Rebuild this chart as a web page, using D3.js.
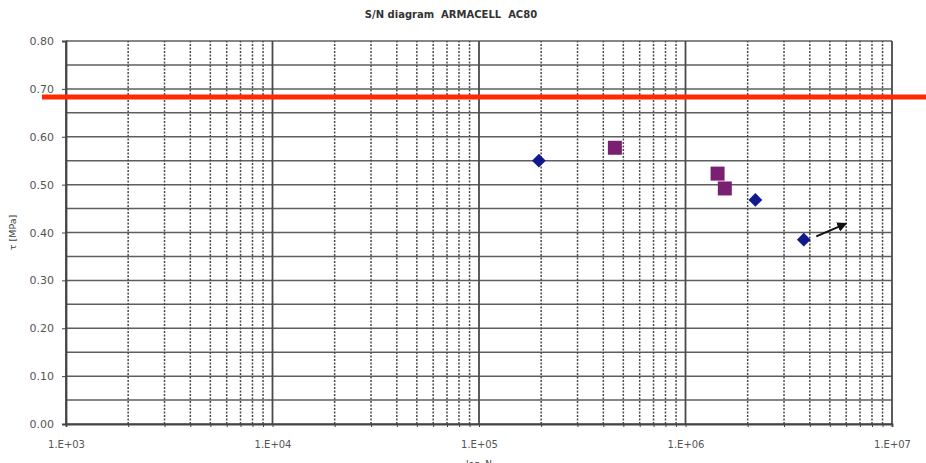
<!DOCTYPE html>
<html>
<head>
<meta charset="utf-8">
<script src="https://cdn.jsdelivr.net/npm/d3@7"></script>
<style>
  body { margin: 0; background: #fff; }
  text { font-family: "DejaVu Sans", Verdana, sans-serif; }
</style>
</head>
<body>
<div id="vis-container"></div>
<script>
// series
var diamondN = [1.95e5, 2.18e6, 3.74e6];
var diamondTau = [0.55, 0.468, 0.385];
var squareN = [4.55e5, 1.43e6, 1.55e6];
var squareTau = [0.577, 0.523, 0.492];
var arrowN = [4.3e6, 5.95e6];
var arrowTau = [0.392, 0.418];
var limitTau = 0.683;
var xTicks = [1e3, 1e4, 1e5, 1e6, 1e7];
var xTickLabels = ["1.E+03", "1.E+04", "1.E+05", "1.E+06", "1.E+07"];
var yTicks = [0, 0.1, 0.2, 0.3, 0.4, 0.5, 0.6, 0.7, 0.8];

var width = 926, height = 463;
var margin = { left: 66, right: 34, top: 41, bottom: 39 };

var svg = d3.select("#vis-container").append("svg")
  .attr("width", width)
  .attr("height", height);

var x = d3.scaleLog().domain([1e3, 1e7]).range([margin.left, width - margin.right]);
var y = d3.scaleLinear().domain([0, 0.8]).range([height - margin.bottom, margin.top]);

var grid = svg.append("g");

// horizontal grid every 0.05
var hLines = d3.range(0, 0.801, 0.05);
grid.selectAll("line.h")
  .data(hLines)
  .enter()
  .append("line")
  .attr("x1", x(1e3)).attr("x2", x(1e7))
  .attr("y1", function (d) { return y(d); })
  .attr("y2", function (d) { return y(d); })
  .attr("stroke", "#5e5e5e")
  .attr("stroke-width", 1.5);

// vertical grid: decades solid, in-between dotted
var minor = [];
[1e3, 1e4, 1e5, 1e6].forEach(function (dec) {
  for (var k = 2; k <= 9; k++) minor.push(dec * k);
});
grid.selectAll("line.vmin")
  .data(minor)
  .enter()
  .append("line")
  .attr("x1", function (d) { return x(d); })
  .attr("x2", function (d) { return x(d); })
  .attr("y1", y(0)).attr("y2", y(0.8))
  .attr("stroke", "#4a4a4a")
  .attr("stroke-width", 1.5)
  .attr("stroke-dasharray", "2,1.5");
grid.selectAll("line.vmaj")
  .data(xTicks)
  .enter()
  .append("line")
  .attr("x1", function (d) { return x(d); })
  .attr("x2", function (d) { return x(d); })
  .attr("y1", y(0)).attr("y2", y(0.8))
  .attr("stroke", "#4a4a4a")
  .attr("stroke-width", 1.8);

// axes
var yAxis = d3.axisLeft(y).tickValues(yTicks).tickFormat(d3.format(".2f")).tickSize(4);
var gy = svg.append("g").attr("transform", "translate(" + x(1e3) + ",0)").call(yAxis);
gy.select(".domain").attr("stroke", "#444").attr("stroke-width", 1.8);
gy.selectAll(".tick line").attr("stroke", "#444");
gy.selectAll("text").attr("font-size", 11).attr("fill", "#555").attr("x", -12);

var xAxis = d3.axisBottom(x).tickValues(xTicks.concat(minor))
  .tickFormat(function (d) {
    var i = xTicks.indexOf(d);
    return i >= 0 ? xTickLabels[i] : "";
  })
  .tickSize(3);
var gx = svg.append("g").attr("transform", "translate(0," + y(0) + ")").call(xAxis);
gx.select(".domain").attr("stroke", "#444").attr("stroke-width", 1.8);
gx.selectAll(".tick line").attr("stroke", "#444");
gx.selectAll("text").attr("font-size", 10).attr("fill", "#555").attr("y", 17);

// title and axis labels
svg.append("text")
  .attr("x", 451).attr("y", 18)
  .attr("text-anchor", "middle")
  .attr("font-size", 10).attr("font-weight", "bold").attr("fill", "#333")
  .style("white-space", "pre")
  .text("S/N diagram  ARMACELL  AC80");
svg.append("text")
  .attr("transform", "translate(16," + y(0.4) + ") rotate(-90)")
  .attr("text-anchor", "middle")
  .attr("font-size", 9.5).attr("fill", "#444")
  .text("τ [MPa]");
svg.append("text")
  .attr("x", x(1e5)).attr("y", 467)
  .attr("text-anchor", "middle")
  .attr("font-size", 9).attr("fill", "#444")
  .text("log. N");

// points
var diamonds = d3.range(diamondN.length).map(function (i) { return [diamondN[i], diamondTau[i]]; });
var squares = d3.range(squareN.length).map(function (i) { return [squareN[i], squareTau[i]]; });

svg.selectAll("path.dia")
  .data(diamonds)
  .enter()
  .append("path")
  .attr("d", d3.symbol().type(d3.symbolSquare).size(95))
  .attr("transform", function (d) { return "translate(" + x(d[0]) + "," + y(d[1]) + ") rotate(45)"; })
  .attr("fill", "#101a8a");

svg.selectAll("rect.sq")
  .data(squares)
  .enter()
  .append("rect")
  .attr("x", function (d) { return x(d[0]) - 7; })
  .attr("y", function (d) { return y(d[1]) - 7; })
  .attr("width", 14).attr("height", 14)
  .attr("fill", "#7a1f72");

// arrow
svg.append("defs").append("marker")
  .attr("id", "ah").attr("viewBox", "0 0 10 10")
  .attr("refX", 8).attr("refY", 5)
  .attr("markerWidth", 5).attr("markerHeight", 5)
  .attr("orient", "auto")
  .append("path").attr("d", "M0,0 L10,5 L0,10 z").attr("fill", "#111");
svg.append("line")
  .attr("x1", x(arrowN[0])).attr("y1", y(arrowTau[0]))
  .attr("x2", x(arrowN[1])).attr("y2", y(arrowTau[1]))
  .attr("stroke", "#111").attr("stroke-width", 2)
  .attr("marker-end", "url(#ah)");

// red limit line
svg.append("line")
  .attr("x1", 42).attr("x2", width)
  .attr("y1", y(limitTau)).attr("y2", y(limitTau))
  .attr("stroke", "#ff2a00").attr("stroke-width", 5);
</script>
</body>
</html>
